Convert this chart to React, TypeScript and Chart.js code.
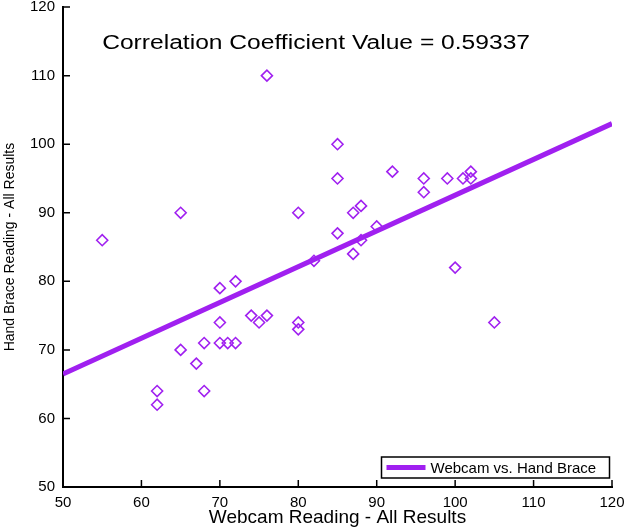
import React, { useEffect, useRef } from "react";
import { Chart, registerables } from "chart.js";

Chart.register(...registerables);

// ---- data ----
const webcam = [55, 62, 62, 65, 65, 67, 68, 68, 70, 70, 70, 71, 72, 72, 74, 75, 76, 76, 80, 80, 80, 82, 85, 85, 85, 87, 87, 88, 88, 90, 92, 96, 96, 99, 100, 101, 102, 102, 105];
const handBrace = [86, 64, 62, 90, 70, 68, 71, 64, 79, 74, 71, 71, 80, 71, 75, 74, 75, 110, 90, 74, 73, 83, 100, 95, 87, 90, 84, 91, 86, 88, 96, 95, 93, 95, 82, 95, 96, 95, 74];
const fitX = [50, 120];
const fitY = [66.5, 103];

const xRange = [50, 120];
const yRange = [50, 120];
const tickStep = 10;

const titleText = "Correlation Coefficient Value = 0.59337";
const legendLabel = "Webcam vs. Hand Brace";
const xTitle = "Webcam Reading - All Results";
const yTitle = "Hand Brace Reading - All Results";

const PURPLE = "#A020F0";
const FONT = '"Liberation Sans", Arial, Helvetica, sans-serif';

const decorPlugin = {
  id: "decor",
  afterDraw(chart: any) {
    const { ctx, chartArea: a, scales } = chart;
    const xs = scales.x;
    const ys = scales.y;
    ctx.save();
    // inward tick marks
    ctx.strokeStyle = "#000";
    ctx.lineWidth = 1.5;
    ctx.beginPath();
    xs.ticks.forEach((t: any) => {
      const px = xs.getPixelForValue(t.value);
      ctx.moveTo(px, a.bottom);
      ctx.lineTo(px, a.bottom - 7);
    });
    ys.ticks.forEach((t: any) => {
      const py = ys.getPixelForValue(t.value);
      ctx.moveTo(a.left, py);
      ctx.lineTo(a.left + 7, py);
    });
    ctx.stroke();

    // in-plot title (horizontally stretched like the reference)
    ctx.save();
    ctx.font = `20px ${FONT}`;
    ctx.fillStyle = "#000";
    ctx.textAlign = "center";
    ctx.textBaseline = "alphabetic";
    ctx.translate(a.left + (a.right - a.left) * 0.461, a.top + 42);
    ctx.scale(1.23, 1);
    ctx.fillText(titleText, 0, 0);
    ctx.restore();

    // legend box
    const boxW = 228;
    const boxH = 21;
    const bx = a.right - 2.5 - boxW;
    const by = a.bottom - 9 - boxH;
    ctx.fillStyle = "#fff";
    ctx.fillRect(bx, by, boxW, boxH);
    ctx.strokeStyle = "#000";
    ctx.lineWidth = 1.5;
    ctx.strokeRect(bx, by, boxW, boxH);
    ctx.strokeStyle = PURPLE;
    ctx.lineWidth = 5;
    ctx.beginPath();
    ctx.moveTo(bx + 5, by + boxH / 2);
    ctx.lineTo(bx + 44, by + boxH / 2);
    ctx.stroke();
    ctx.fillStyle = "#000";
    ctx.font = `15px ${FONT}`;
    ctx.textAlign = "left";
    ctx.textBaseline = "alphabetic";
    ctx.fillText(legendLabel, bx + 49, by + 16);
    ctx.restore();
  },
};

export default function App() {
  const canvasRef = useRef<HTMLCanvasElement | null>(null);

  useEffect(() => {
    const canvas = canvasRef.current;
    if (!canvas) return;
    const points = webcam.map((x, i) => ({ x, y: handBrace[i] }));
    const fit = fitX.map((x, i) => ({ x, y: fitY[i] }));

    const chart = new Chart(canvas, {
      type: "scatter",
      data: {
        datasets: [
          {
            label: legendLabel,
            data: fit,
            showLine: true,
            borderColor: PURPLE,
            backgroundColor: PURPLE,
            borderWidth: 5,
            pointRadius: 0,
            pointHoverRadius: 0,
          },
          {
            label: "Readings",
            data: points,
            showLine: false,
            pointStyle: "rectRot",
            pointRadius: 5.5,
            pointBorderWidth: 1.6,
            borderColor: PURPLE,
            backgroundColor: "rgba(0,0,0,0)",
          } as any,
        ],
      },
      options: {
        responsive: false,
        animation: false,
        devicePixelRatio: 1,
        layout: { padding: { top: 6, right: 15, left: 0, bottom: 0 } },
        plugins: {
          legend: { display: false },
          tooltip: { enabled: false },
          title: { display: false },
        },
        scales: {
          x: {
            type: "linear",
            min: xRange[0],
            max: xRange[1],
            grid: { display: true, drawOnChartArea: false, drawTicks: false },
            border: { display: true, color: "#000", width: 2 },
            ticks: {
              stepSize: tickStep,
              color: "#000",
              font: { family: FONT, size: 15 },
              padding: 7,
              maxRotation: 0,
            },
            title: {
              display: true,
              text: xTitle,
              color: "#000",
              font: { family: FONT, size: 19 },
              padding: { top: 0, bottom: 0 },
            },
            afterFit(scale: any) {
              scale.height = 42;
              scale.paddingLeft = 0;
              scale.paddingRight = 0;
            },
          },
          y: {
            type: "linear",
            min: yRange[0],
            max: yRange[1],
            grid: { display: true, drawOnChartArea: false, drawTicks: false },
            border: { display: true, color: "#000", width: 2 },
            ticks: {
              stepSize: tickStep,
              color: "#000",
              font: { family: FONT, size: 15 },
              padding: 8,
            },
            title: {
              display: true,
              text: yTitle,
              color: "#000",
              font: { family: FONT, size: 14 },
              padding: { top: 2, bottom: 0 },
            },
            afterFit(scale: any) {
              scale.width = 63;
              scale.paddingTop = 0;
              scale.paddingBottom = 0;
            },
          },
        },
      } as any,
      plugins: [decorPlugin],
    });
    return () => chart.destroy();
  }, []);

  return (
    <div style={{ position: "absolute", left: 0, top: 0, width: 627, height: 529, background: "#fff" }}>
      <canvas ref={canvasRef} width={627} height={529} style={{ display: "block" }} />
    </div>
  );
}
